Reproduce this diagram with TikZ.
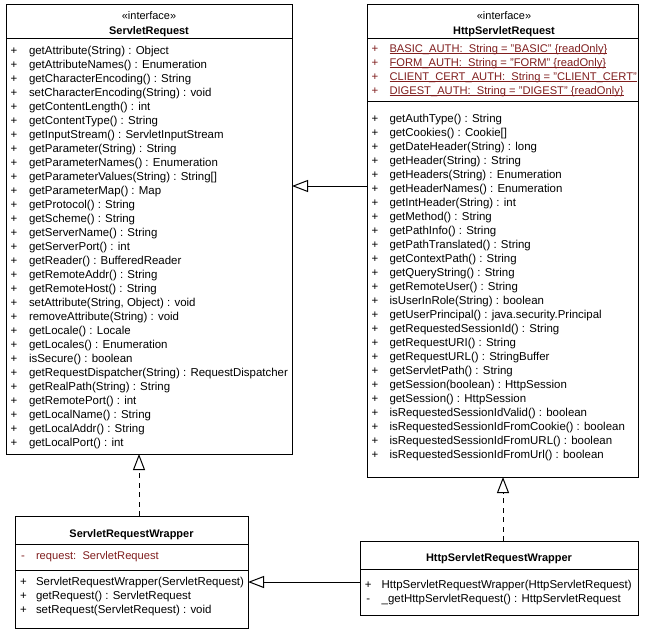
\documentclass[tikz,border=0pt]{standalone}
\usepackage{fontspec}
\setmainfont{Liberation Sans}
\usetikzlibrary{arrows.meta,calc}
\definecolor{fieldred}{RGB}{128,30,30}
\newcommand\fu[1]{\setbox0=\hbox{#1}\rlap{\rule[-2bp]{\wd0}{0.75bp}}\box0}
\begin{document}
\begin{tikzpicture}[x=1bp,y=-1bp,
  box/.style={draw=black,line width=1bp,fill=white,rectangle,inner sep=0pt,outer sep=0pt,anchor=north west},
  txt/.style={anchor=base west,inner sep=0pt,outer sep=0pt,font=\fontsize{11.5}{13}\selectfont},
  vis/.style={anchor=base,inner sep=0pt,outer sep=0pt,font=\fontsize{11.5}{13}\selectfont},
  ttl/.style={anchor=base,inner sep=0pt,font=\fontsize{11}{13}\selectfont\bfseries},
  ster/.style={anchor=base,inner sep=0pt,font=\fontsize{11}{13}\selectfont},
  fld/.style={txt,text=fieldred,font=\fontsize{11.2}{13}\selectfont},
  fldvis/.style={vis,text=fieldred},
  sepline/.style={line width=1bp},
  gen/.style={line width=1bp,-{Triangle[open,fill=white,length=16bp,width=12bp]}},
  real/.style={gen,dash pattern=on 5bp off 4.5bp}]

\useasboundingbox (0,0) rectangle (647,633);
\fill[white] (0,0) rectangle (647,633);

% ---------------- ServletRequest ----------------
\node[box,minimum width=286bp,minimum height=449bp] (sr) at (6,5) {};
\node[ster] (sr-st) at (149,19.5) {«interface»};
\node[ttl] (sr-t) at (149,35) {ServletRequest};
\draw[sepline] ($(sr.north west)+(0,33.3)$) -- ($(sr.north east)+(0,33.3)$);
\foreach \t [count=\i from 0] in {
 {getAttribute(String) : Object},
 {getAttributeNames() : Enumeration},
 {getCharacterEncoding() : String},
 {setCharacterEncoding(String) : void},
 {getContentLength() : int},
 {getContentType() : String},
 {getInputStream() : ServletInputStream},
 {getParameter(String) : String},
 {getParameterNames() : Enumeration},
 {getParameterValues(String) : String[]},
 {getParameterMap() : Map},
 {getProtocol() : String},
 {getScheme() : String},
 {getServerName() : String},
 {getServerPort() : int},
 {getReader() : BufferedReader},
 {getRemoteAddr() : String},
 {getRemoteHost() : String},
 {setAttribute(String, Object) : void},
 {removeAttribute(String) : void},
 {getLocale() : Locale},
 {getLocales() : Enumeration},
 {isSecure() : boolean},
 {getRequestDispatcher(String) : RequestDispatcher},
 {getRealPath(String) : String},
 {getRemotePort() : int},
 {getLocalName() : String},
 {getLocalAddr() : String},
 {getLocalPort() : int}}
{
  \node[vis] (sr-p\i) at (14,54.5+14*\i) {+};
  \node[txt] (sr-m\i) at (29,54.5+14*\i) {\t};
}

% ---------------- HttpServletRequest ----------------
\node[box,minimum width=270.5bp,minimum height=472bp] (hsr) at (367.5,5) {};
\node[ster] (hsr-st) at (504,19.5) {«interface»};
\node[ttl] (hsr-t) at (504,35) {HttpServletRequest};
\draw[sepline] ($(hsr.north west)+(0,33.3)$) -- ($(hsr.north east)+(0,33.3)$);
\draw[sepline] ($(hsr.north west)+(0,96.7)$) -- ($(hsr.north east)+(0,96.7)$);
\foreach \t [count=\i from 0] in {
 {BASIC\_AUTH:\ \ String = "BASIC" \{readOnly\}},
 {FORM\_AUTH:\ \ String = "FORM" \{readOnly\}},
 {CLIENT\_CERT\_AUTH:\ \ String = "CLIENT\_CERT"},
 {DIGEST\_AUTH:\ \ String = "DIGEST" \{readOnly\}}}
{
  \node[fldvis] (hsr-fp\i) at (375,52.2+14*\i) {+};
  \node[fld] (hsr-f\i) at (389.5,52.2+14*\i) {\fu{\t}};
}
\foreach \t [count=\i from 0] in {
 {getAuthType() : String},
 {getCookies() : Cookie[]},
 {getDateHeader(String) : long},
 {getHeader(String) : String},
 {getHeaders(String) : Enumeration},
 {getHeaderNames() : Enumeration},
 {getIntHeader(String) : int},
 {getMethod() : String},
 {getPathInfo() : String},
 {getPathTranslated() : String},
 {getContextPath() : String},
 {getQueryString() : String},
 {getRemoteUser() : String},
 {isUserInRole(String) : boolean},
 {getUserPrincipal() : java.security.Principal},
 {getRequestedSessionId() : String},
 {getRequestURI() : String},
 {getRequestURL() : StringBuffer},
 {getServletPath() : String},
 {getSession(boolean) : HttpSession},
 {getSession() : HttpSession},
 {isRequestedSessionIdValid() : boolean},
 {isRequestedSessionIdFromCookie() : boolean},
 {isRequestedSessionIdFromURL() : boolean},
 {isRequestedSessionIdFromUrl() : boolean}}
{
  \node[vis] (hsr-p\i) at (375,122.2+14*\i) {+};
  \node[txt] (hsr-m\i) at (389.5,122.2+14*\i) {\t};
}

% ---------------- ServletRequestWrapper ----------------
\node[box,minimum width=233bp,minimum height=112bp] (srw) at (15,516) {};
\node[ttl] (srw-t) at (131.5,537.3) {ServletRequestWrapper};
\draw[sepline] ($(srw.north west)+(0,28)$) -- ($(srw.north east)+(0,28)$);
\node[fldvis] (srw-fp) at (23,559.3) {-};
\node[fld] (srw-f) at (36,559.3) {request:\ \ ServletRequest};
\draw[sepline] ($(srw.north west)+(0,54)$) -- ($(srw.north east)+(0,54)$);
\foreach \t [count=\i from 0] in {
 {ServletRequestWrapper(ServletRequest)},
 {getRequest() : ServletRequest},
 {setRequest(ServletRequest) : void}}
{
  \node[vis] (srw-p\i) at (23.5,585.2+14*\i) {+};
  \node[txt] (srw-m\i) at (36,585.2+14*\i) {\t};
}

% ---------------- HttpServletRequestWrapper ----------------
\node[box,minimum width=278bp,minimum height=74bp] (hsrw) at (360,541) {};
\node[ttl] (hsrw-t) at (499,561.5) {HttpServletRequestWrapper};
\draw[sepline] ($(hsrw.north west)+(0,28)$) -- ($(hsrw.north east)+(0,28)$);
\node[vis] (hsrw-p0) at (368.3,588.6) {+};
\node[txt] (hsrw-m0) at (381.7,588.6) {HttpServletRequestWrapper(HttpServletRequest)};
\node[vis] (hsrw-p1) at (368.3,602.6) {-};
\node[txt] (hsrw-m1) at (381.7,602.6) {\_getHttpServletRequest() : HttpServletRequest};

% ---------------- connectors ----------------
\coordinate (yA) at (0,186);
\coordinate (xB) at (139,0);
\coordinate (xC) at (503,0);
\coordinate (yD) at (0,582);
\draw[gen] (hsr.west |- yA) -- (sr.east |- yA);
\draw[real] (srw.north -| xB) -- (sr.south -| xB);
\draw[real] (hsrw.north -| xC) -- (hsr.south -| xC);
\draw[gen] (hsrw.west |- yD) -- (srw.east |- yD);
\end{tikzpicture}
\end{document}
